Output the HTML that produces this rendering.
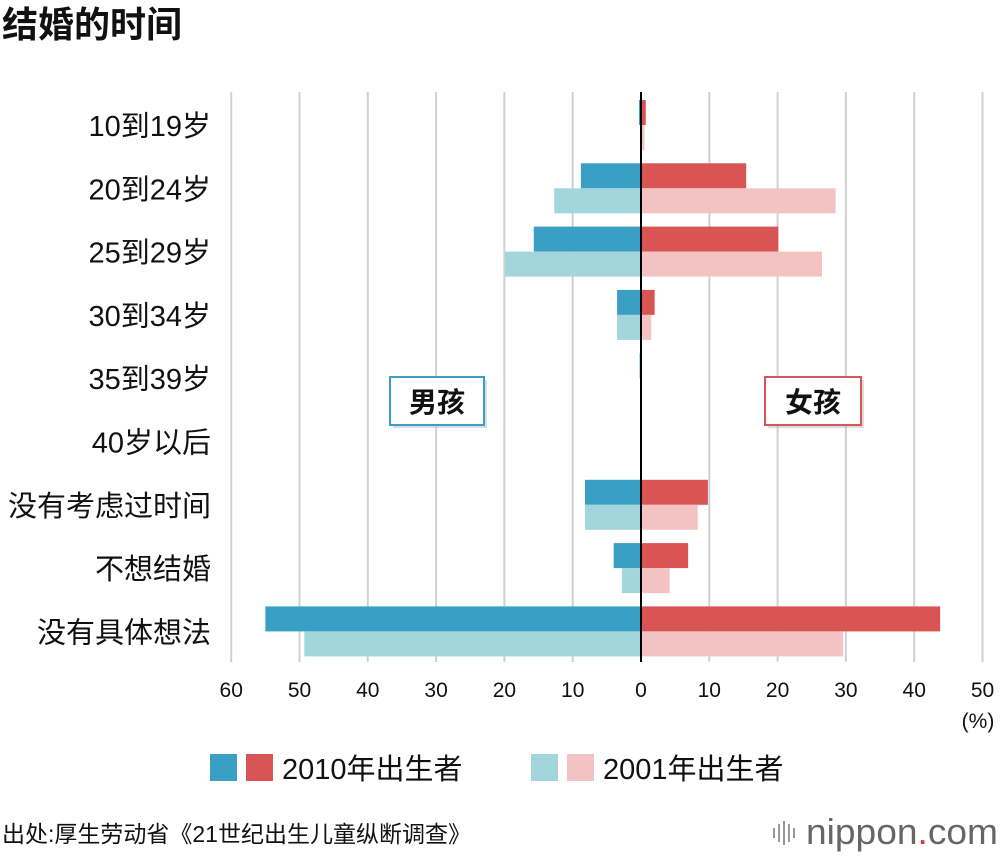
<!DOCTYPE html>
<html><head><meta charset="utf-8">
<style>
body{margin:0;background:#fff;width:1000px;height:856px;overflow:hidden;font-family:"Liberation Sans","Noto Sans CJK SC",sans-serif;}
</style></head>
<body>
<svg id="chart" width="1000" height="856" xmlns="http://www.w3.org/2000/svg" font-family="'Liberation Sans','Noto Sans CJK SC',sans-serif">
<text x="2" y="37" font-size="36" font-weight="bold" fill="#111">结婚的时间</text>
<g id="grid"></g>
<g id="bars"></g>
<g id="labels"></g>
<line x1="641" y1="92" x2="641" y2="662" stroke="#000" stroke-width="2"/>
<g>
<rect x="393" y="380" width="94" height="48" fill="#bbb" opacity="0.5"/>
<rect x="390" y="377" width="94" height="48" fill="#fff" stroke="#3a9fc4" stroke-width="2"/>
<text x="437" y="412" text-anchor="middle" font-size="28" font-weight="bold" fill="#111">男孩</text>
</g>
<g>
<rect x="768" y="380" width="96" height="48" fill="#bbb" opacity="0.5"/>
<rect x="765" y="377" width="96" height="48" fill="#fff" stroke="#d95454" stroke-width="2"/>
<text x="813" y="412" text-anchor="middle" font-size="28" font-weight="bold" fill="#111">女孩</text>
</g>
<text x="978" y="728" text-anchor="middle" font-size="21" fill="#111">(%)</text>
<g>
<rect x="210" y="754" width="27" height="27" fill="#3a9fc4"/>
<rect x="246" y="754" width="27" height="27" fill="#d95454"/>
<text x="282" y="779" font-size="29" fill="#111">2010年出生者</text>
</g>
<g>
<rect x="531" y="754" width="27" height="27" fill="#a3d5dc"/>
<rect x="567" y="754" width="27" height="27" fill="#f2c3c2"/>
<text x="603" y="779" font-size="29" fill="#111">2001年出生者</text>
</g>
<text x="2" y="842" font-size="23" fill="#111">出处:厚生劳动省《21世纪出生儿童纵断调查》</text>
<g>
<g stroke="#999" stroke-width="2"><line x1="774" y1="828" x2="774" y2="838"/><line x1="779" y1="824" x2="779" y2="842"/><line x1="784" y1="821" x2="784" y2="845"/><line x1="789" y1="824" x2="789" y2="842"/><line x1="794" y1="828" x2="794" y2="838"/></g>
<text x="806" y="844" font-size="36" fill="#666" textLength="192" lengthAdjust="spacingAndGlyphs">nippon<tspan fill="#d33">.</tspan>com</text>
</g>
</svg>
<script>
const categories=["10到19岁","20到24岁","25到29岁","30到34岁","35到39岁","40岁以后","没有考虑过时间","不想结婚","没有具体想法"];
const male2010=[0.3,8.8,15.7,3.5,0.2,0,8.2,4.0,55.0];
const male2001=[0.1,12.7,19.9,3.5,0,0,8.2,2.8,49.3];
const female2010=[0.7,15.4,20.1,2.0,0.1,0,9.8,6.9,43.8];
const female2001=[0.5,28.5,26.5,1.5,0,0,8.3,4.2,29.6];
const tickValues=[-60,-50,-40,-30,-20,-10,0,10,20,30,40,50];
const ns="http://www.w3.org/2000/svg";
function x(v){return 641+v*6.83;}
function yc(i){return 125+i*63.3;}
function mk(tag,attrs,parent){const e=document.createElementNS(ns,tag);for(const k in attrs)e.setAttribute(k,attrs[k]);parent.appendChild(e);return e;}
const grid=document.getElementById('grid'),bars=document.getElementById('bars'),labels=document.getElementById('labels');
tickValues.forEach(t=>{
  const l=mk('line',{x1:x(t),x2:x(t),y1:92,y2:662,stroke:'#d0d0d0','stroke-width':2},grid);
  
  
  const tx=mk('text',{x:x(t),y:697,'text-anchor':'middle','font-size':21,fill:'#111'},labels);
  tx.textContent=Math.abs(t);
  
  
});
categories.forEach((c,i)=>{
  const cy=yc(i);
  const t=mk('text',{x:211,y:cy+11,'text-anchor':'end','font-size':29,fill:'#111'},labels);
  t.textContent=c;
  
  
  const specs=[[male2010[i],-1,cy-25,'#3a9fc4','bar-male-2010'],[male2001[i],-1,cy,'#a3d5dc','bar-male-2001'],[female2010[i],1,cy-25,'#d95454','bar-female-2010'],[female2001[i],1,cy,'#f2c3c2','bar-female-2001']];
  specs.forEach(s=>{
    const x0=x(0),x1=x(s[0]*s[1]);
    const r=mk('rect',{x:Math.min(x0,x1),y:s[2],width:Math.abs(x1-x0),height:25,fill:s[3]},bars);
    
    
  });
});
</script>
</body></html>
